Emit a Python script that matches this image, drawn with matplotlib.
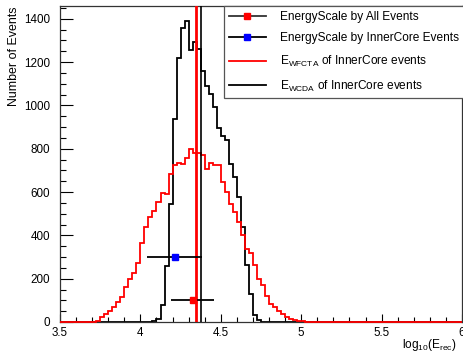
import numpy as np
import matplotlib
matplotlib.use("Agg")
import matplotlib.pyplot as plt
from matplotlib.lines import Line2D
from matplotlib.ticker import MultipleLocator, FormatStrFormatter

plt.rcParams['font.family'] = ['Liberation Sans', 'DejaVu Sans']
plt.rcParams['mathtext.fontset'] = 'custom'
plt.rcParams['mathtext.rm'] = 'Liberation Sans'
plt.rcParams['mathtext.it'] = 'Liberation Sans:italic'

# ---- data ----
bin_low = 3.5
bin_high = 6.0
bin_width = 0.025

# E_WFCTA of InnerCore events (red), first non-empty bin lower edge
red_first_edge = 3.70
red_counts = [2, 3, 23, 36, 51, 69, 92, 115, 162, 200,
              226, 272, 365, 438, 485, 511, 552, 597, 589, 682,
              726, 735, 728, 757, 797, 782, 781, 772, 708, 735,
              725, 725, 646, 600, 546, 508, 461, 400, 339, 320,
              262, 200, 169, 120, 85, 67, 52, 37, 21, 13,
              8, 4, 3, 2, 1]

# E_WCDA of InnerCore events (black)
black_first_edge = 4.05
black_counts = [1, 3, 13, 77, 260, 546, 935, 1220, 1357, 1389,
                1254, 1292, 1262, 1157, 1088, 1051, 992, 895, 857, 842,
                731, 669, 575, 440, 262, 127, 31, 10, 2]

# vertical lines (means)
mean_wfcta = 4.346
mean_wcda = 4.377

# energy scale points
scale_labels = ["EnergyScale by All Events", "EnergyScale by InnerCore Events"]
scale_x = [4.325, 4.213]
scale_xerr = [0.134, 0.171]
scale_y = [100, 300]
scale_colors = ['#ff0000', '#0000ff']

hist_labels = ["E$_{\\mathrm{WFCTA}}$ of InnerCore events",
               "E$_{\\mathrm{WCDA}}$ of InnerCore events"]

# ---- build full histograms ----
nbins = int(round((bin_high - bin_low) / bin_width))
edges = bin_low + bin_width * np.arange(nbins + 1)

def full_hist(first_edge, counts):
    h = np.zeros(nbins)
    i0 = int(round((first_edge - bin_low) / bin_width))
    h[i0:i0 + len(counts)] = counts
    return h

red_h = full_hist(red_first_edge, red_counts)
black_h = full_hist(black_first_edge, black_counts)

# ---- figure ----
W, H = 464, 356
fig = plt.figure(figsize=(W / 100, H / 100), dpi=100)
ax = fig.add_axes([60 / W, 34 / H, 402 / W, 316 / H])

ax.stairs(black_h, edges, color='black', lw=1.3, baseline=None, zorder=2)
ax.stairs(red_h, edges, color='#ff0000', lw=1.3, baseline=None, zorder=3, clip_on=False)

ax.axvline(mean_wfcta, color='#ff0000', lw=2.0, zorder=4)
ax.axvline(mean_wcda, color='black', lw=1.2, zorder=4)

for x, xe, y, c in zip(scale_x, scale_xerr, scale_y, scale_colors):
    ax.errorbar([x], [y], xerr=[xe], fmt='s', ms=4, mfc=c, mec=c,
                ecolor='black', elinewidth=1.3, capsize=0, zorder=5)

ax.set_xlim(bin_low, bin_high)
ax.set_ylim(0, 1459)

ax.xaxis.set_major_locator(MultipleLocator(0.5))
ax.xaxis.set_minor_locator(MultipleLocator(0.1))
ax.yaxis.set_major_locator(MultipleLocator(200))
ax.yaxis.set_minor_locator(MultipleLocator(50))
ax.xaxis.set_major_formatter(FormatStrFormatter('%g'))

ax.tick_params(axis='both', which='both', direction='in', width=0.8,
               colors='black', labelsize=8.4, top=False, right=False)
ax.tick_params(axis='y', which='major', length=9, pad=7)
ax.tick_params(axis='y', which='minor', length=4.5)
ax.tick_params(axis='x', which='major', length=6, pad=3.5)
ax.tick_params(axis='x', which='minor', length=3.5)
for s in ax.spines.values():
    s.set_linewidth(0.9)
    s.set_color('#333333')

fig.text(14.5 / W, 1 - 7 / H, "Number of Events", rotation=90,
         ha='center', va='top', fontsize=8.9)
fig.text(457 / W, 1 - 348 / H, "log$_{10}$(E$_{\\mathrm{rec}}$)",
         ha='right', va='baseline', fontsize=8.6)

handles = [
    Line2D([], [], color='#333333', lw=1.3, marker='s', ms=4,
           mfc=scale_colors[0], mec=scale_colors[0]),
    Line2D([], [], color='black', lw=1.3, marker='s', ms=4,
           mfc=scale_colors[1], mec=scale_colors[1]),
    Line2D([], [], color='#ff0000', lw=1.3),
    Line2D([], [], color='black', lw=1.3),
]
labels = scale_labels + hist_labels
leg = ax.legend(handles, labels, loc='upper left',
                bbox_to_anchor=((224 - 60) / 402, 1.0),
                fontsize=8.6, frameon=True, fancybox=False, framealpha=1,
                edgecolor='#555555', borderaxespad=0, handlelength=3.1,
                handletextpad=1.2, labelspacing=0.8, borderpad=0.4)
leg.get_frame().set_linewidth(0.9)
leg.set_zorder(6)

fig.savefig("out.png", dpi=100)
